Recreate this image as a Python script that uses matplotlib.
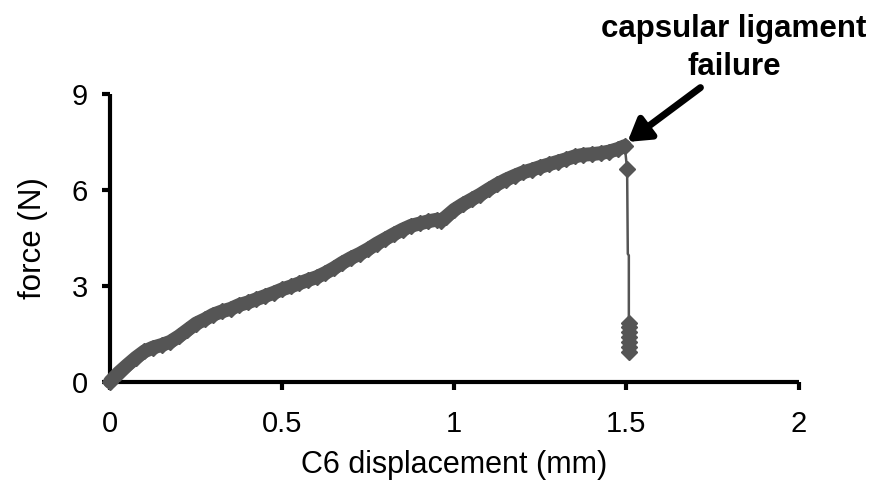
import matplotlib
matplotlib.use("Agg")
import matplotlib.pyplot as plt

plt.rcParams['font.family'] = ['Liberation Sans', 'DejaVu Sans']

# loading curve (mm, N)
disp = [0.000, 0.025, 0.050, 0.075, 0.100, 0.125, 0.150, 0.175, 0.200, 0.225,
        0.250, 0.275, 0.300, 0.325, 0.350, 0.375, 0.400, 0.425, 0.450, 0.475,
        0.500, 0.525, 0.550, 0.575, 0.600, 0.625, 0.650, 0.675, 0.700, 0.725,
        0.750, 0.775, 0.800, 0.825, 0.850, 0.875, 0.900, 0.925, 0.950, 0.960,
        0.975, 1.000, 1.025, 1.050, 1.075, 1.100, 1.125, 1.150, 1.175, 1.200,
        1.225, 1.250, 1.275, 1.300, 1.325, 1.350, 1.375, 1.400, 1.425, 1.450,
        1.475, 1.495]
force = [0.00, 0.28, 0.52, 0.75, 0.95, 1.07, 1.15, 1.25, 1.42, 1.62,
         1.82, 1.95, 2.10, 2.20, 2.28, 2.40, 2.48, 2.58, 2.68, 2.78,
         2.89, 2.98, 3.08, 3.18, 3.27, 3.40, 3.55, 3.72, 3.87, 4.00,
         4.15, 4.32, 4.47, 4.62, 4.76, 4.88, 4.95, 5.02, 5.07, 5.03,
         5.15, 5.38, 5.55, 5.70, 5.85, 6.02, 6.18, 6.32, 6.44, 6.55,
         6.63, 6.72, 6.80, 6.88, 6.96, 7.05, 7.10, 7.12, 7.15, 7.20,
         7.28, 7.37]

# after the ligament fails
fail_disp = [1.495, 1.502, 1.504, 1.507, 1.507, 1.507, 1.507, 1.507, 1.507, 1.507, 1.507]
fail_force = [7.37, 6.66, 4.00, 3.95, 1.85, 1.70, 1.55, 1.40, 1.25, 1.10, 0.92]
fail_marked = [False, True, False, False, True, True, True, True, True, True, True]

xticks = [0, 0.5, 1, 1.5, 2]
xticklabels = ['0', '0.5', '1', '1.5', '2']
yticks = [0, 3, 6, 9]

grey = '#555555'

fig = plt.figure(figsize=(8.76, 4.82), dpi=100)
ax = fig.add_axes([0.1256, 0.208, 0.786, 0.597])

ax.plot(disp, force, color=grey, lw=10, marker='D', ms=8, mec=grey,
        mfc=grey, solid_joinstyle='round', solid_capstyle='round',
        clip_on=False, zorder=3)
ax.plot(fail_disp, fail_force, color=grey, lw=1.8, clip_on=False, zorder=3)
ax.plot([x for x, m in zip(fail_disp, fail_marked) if m],
        [y for y, m in zip(fail_force, fail_marked) if m],
        ls='none', marker='D', ms=8, color=grey, clip_on=False, zorder=3)

ax.set_xlim(0, 2)
ax.set_ylim(0, 9)
ax.set_xticks(xticks)
ax.set_xticklabels(xticklabels)
ax.set_yticks(yticks)

for s in ['top', 'right']:
    ax.spines[s].set_visible(False)
for s in ['left', 'bottom']:
    ax.spines[s].set_linewidth(3)
    ax.spines[s].set_capstyle('butt')
ax.tick_params(width=3, length=6, labelsize=21)
ax.tick_params(axis='x', pad=14)
ax.tick_params(axis='y', pad=10)

ax.set_xlabel('C6 displacement (mm)', fontsize=22, labelpad=9)
ax.set_ylabel('force (N)', fontsize=22.5, labelpad=17)

ax.text(1.813, 10.45, 'capsular ligament\nfailure', ha='center', va='center',
        fontsize=22.5, fontweight='bold', linespacing=1.35)
ax.annotate('', xy=(1.503, 7.5), xytext=(1.715, 9.2),
            arrowprops=dict(arrowstyle='-|>,head_length=1.3,head_width=0.8',
                            lw=5, color='black', shrinkA=0, shrinkB=0),
            annotation_clip=False)

fig.savefig('out.png', dpi=100)
